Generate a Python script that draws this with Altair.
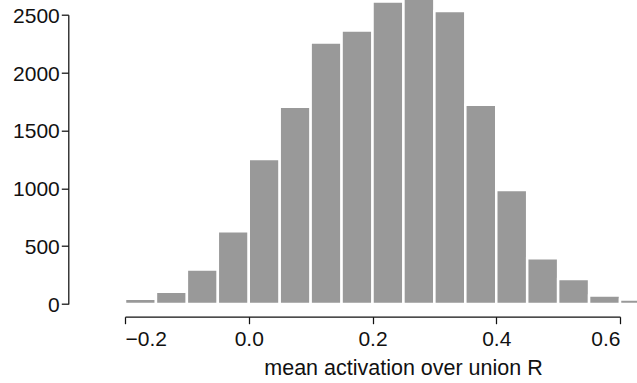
import altair as alt
import pandas as pd

# Histogram of mean activation, bins of width 0.05
bin_starts = [-0.25, -0.20, -0.15, -0.10, -0.05, 0.00, 0.05, 0.10, 0.15,
              0.20, 0.25, 0.30, 0.35, 0.40, 0.45, 0.50, 0.55, 0.60]
counts = [3, 45, 105, 298, 628, 1252, 1704, 2260, 2364,
          2614, 2700, 2531, 1721, 986, 396, 215, 73, 38]
bin_width = 0.05

x_ticks = [-0.2, 0.0, 0.2, 0.4, 0.6]
y_ticks = [0, 500, 1000, 1500, 2000, 2500]

df = pd.DataFrame({"start": bin_starts, "count": counts})
df["end"] = df["start"] + bin_width
df["base"] = 0

FONT = "Liberation Sans"
INK = "#111111"

chart = (
    alt.Chart(df)
    .mark_rect(color="#999999", stroke="white", strokeWidth=2.5, clip=False)
    .encode(
        x=alt.X(
            "start:Q",
            scale=alt.Scale(domain=[-0.2, 0.6], nice=False, zero=False),
            axis=alt.Axis(
                values=x_ticks,
                format=".1f",
                title="mean activation over union R",
                offset=12.7,
                tickSize=7,
                labelPadding=5,
                titleX=278,
                titleY=57.3,
                titleBaseline="alphabetic",
                titleAlign="center",
            ),
        ),
        x2="end:Q",
        y=alt.Y(
            "count:Q",
            scale=alt.Scale(domain=[0, 2500], nice=False),
            axis=alt.Axis(
                values=y_ticks,
                format="d",
                title=None,
                offset=56.7,
                tickSize=7,
                labelPadding=2,
                labelOffset=1.5,
            ),
        ),
        y2="base:Q",
    )
    .properties(
        width=495,
        height=289.3,
        autosize=alt.AutoSizeParams(type="none"),
        padding={"left": 125, "top": 14.7, "right": 17, "bottom": 79},
    )
    .configure_view(stroke=None)
    .configure_axis(
        grid=False,
        domainColor=INK,
        domainWidth=1.25,
        tickColor=INK,
        tickWidth=1.25,
        labelFont=FONT,
        labelFontSize=21,
        labelColor=INK,
        titleFont=FONT,
        titleFontSize=21.5,
        titleFontWeight="normal",
        titleColor=INK,
    )
)

chart.save("out.html", embed_options={"renderer": "svg", "actions": False})
